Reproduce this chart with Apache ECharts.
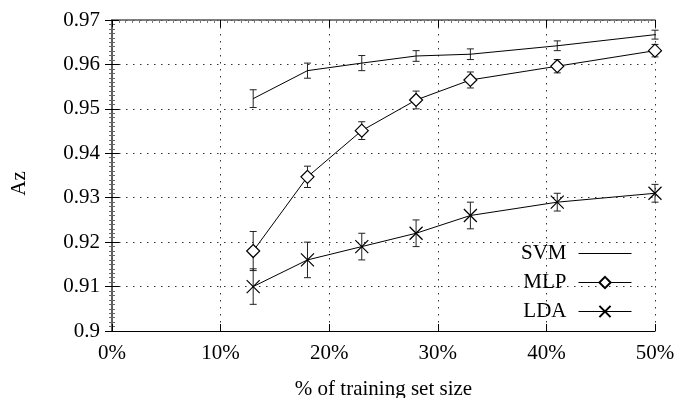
<!DOCTYPE html>
<html>
<head>
<meta charset="utf-8">
<script src="https://cdn.jsdelivr.net/npm/echarts@6/dist/echarts.min.js"></script>
<style>
  html, body { margin: 0; padding: 0; background: #fff; }
  #chart { width: 677px; height: 398px; }
</style>
</head>
<body>
<div id="chart"></div>
<script>
// training set size (%)
const sizes = [13, 18, 23, 28, 33, 41, 50];
const xTicks = [0, 10, 20, 30, 40, 50];
const yTicks = [0.9, 0.91, 0.92, 0.93, 0.94, 0.95, 0.96, 0.97];

const svm = [0.9523, 0.9586, 0.9603, 0.9619, 0.9623, 0.9642, 0.9667];
const svmErr = [0.002, 0.0017, 0.0017, 0.0012, 0.0012, 0.0011, 0.001];
const mlp = [0.918, 0.9347, 0.9451, 0.952, 0.9565, 0.9596, 0.9631];
const mlpErr = [0.0044, 0.0024, 0.002, 0.002, 0.0018, 0.0015, 0.0014];
const lda = [0.910, 0.916, 0.919, 0.922, 0.926, 0.929, 0.931];
const ldaErr = [0.004, 0.004, 0.003, 0.003, 0.003, 0.002, 0.002];

const font = "Liberation Serif";

function pairs(ys) {
  return sizes.map((x, i) => [x, ys[i]]);
}
function errRows(ys, es) {
  return sizes.map((x, i) => [x, ys[i] - es[i], ys[i] + es[i]]);
}

// vertical error bar with caps
function renderErr(params, api) {
  const lo = api.coord([api.value(0), api.value(1)]);
  const hi = api.coord([api.value(0), api.value(2)]);
  const w = 3.5;
  const style = { stroke: "#222", lineWidth: 1 };
  return {
    type: "group",
    children: [
      { type: "line", shape: { x1: lo[0], y1: lo[1], x2: hi[0], y2: hi[1] }, style: style },
      { type: "line", shape: { x1: lo[0] - w, y1: lo[1], x2: lo[0] + w, y2: lo[1] }, style: style },
      { type: "line", shape: { x1: hi[0] - w, y1: hi[1], x2: hi[0] + w, y2: hi[1] }, style: style }
    ]
  };
}

const chart = echarts.init(document.getElementById("chart"));

const gridLine = { show: true, lineStyle: { color: "#333", width: 1, type: [1.5, 5.5] } };
const borderLine = { show: true, lineStyle: { color: "#555", width: 1.5 } };

chart.setOption({
  animation: false,
  textStyle: { fontFamily: font },
  grid: { left: 112, right: 22, top: 20, bottom: 67, containLabel: false, outerBoundsMode: "none" },
  legend: {
    orient: "vertical",
    align: "right",
    right: 40,
    top: 238,
    itemWidth: 53,
    itemHeight: 14,
    itemGap: 8,
    lineStyle: { type: "solid", width: 1, color: "#000" },
    textStyle: { fontFamily: font, fontSize: 21, color: "#000", padding: [0, 7, 0, 0] },
    data: [
      { name: "SVM", itemStyle: { color: "rgba(0,0,0,0)", borderWidth: 0 } },
      "MLP",
      "LDA"
    ]
  },
  xAxis: [
    {
      type: "value",
      min: xTicks[0],
      max: xTicks[xTicks.length - 1],
      interval: 10,
      name: "% of training set size",
      nameLocation: "middle",
      nameGap: 48,
      nameTextStyle: { fontFamily: font, fontSize: 21, color: "#000" },
      axisLine: { show: true, lineStyle: { color: "#000", width: 1.2 } },
      axisTick: { show: true, inside: true, length: 7, lineStyle: { color: "#000" } },
      axisLabel: { fontFamily: font, fontSize: 21, color: "#000", margin: 12, formatter: "{value}%" },
      splitLine: gridLine
    },
    {
      type: "value",
      position: "top",
      min: xTicks[0],
      max: xTicks[xTicks.length - 1],
      interval: 10,
      axisLine: borderLine,
      axisTick: { show: true, inside: true, length: 7, lineStyle: { color: "#000" } },
      minorTick: { show: true, splitNumber: 16, length: 3, lineStyle: { color: "#777" } },
      axisLabel: { show: false },
      splitLine: { show: false }
    }
  ],
  yAxis: [
    {
      type: "value",
      min: yTicks[0],
      max: yTicks[yTicks.length - 1],
      interval: 0.01,
      name: "Az",
      nameLocation: "middle",
      nameGap: 82,
      nameTextStyle: { fontFamily: font, fontSize: 21, color: "#000", padding: [0, 16, 0, 0] },
      axisLine: borderLine,
      axisTick: { show: true, inside: true, length: 7, lineStyle: { color: "#000" } },
      minorTick: { show: true, splitNumber: 10, length: 3, lineStyle: { color: "#666" } },
      axisLabel: { fontFamily: font, fontSize: 21, color: "#000", margin: 12 },
      splitLine: gridLine
    },
    {
      type: "value",
      position: "right",
      min: yTicks[0],
      max: yTicks[yTicks.length - 1],
      interval: 0.01,
      axisLine: borderLine,
      axisTick: { show: true, inside: true, length: 7, lineStyle: { color: "#000" } },
      minorTick: { show: true, splitNumber: 10, length: 3, lineStyle: { color: "#666" } },
      axisLabel: { show: false },
      splitLine: { show: false }
    }
  ],
  series: [
    {
      name: "SVM",
      type: "line",
      data: pairs(svm),
      symbol: "none",
      lineStyle: { color: "#000", width: 1 },
      itemStyle: { color: "#000" },
      z: 3
    },
    {
      name: "MLP",
      type: "line",
      data: pairs(mlp),
      symbol: "diamond",
      symbolSize: [13, 13],
      lineStyle: { color: "#000", width: 1 },
      itemStyle: { color: "#fff", borderColor: "#000", borderWidth: 1.2 },
      z: 3
    },
    {
      name: "LDA",
      type: "line",
      data: pairs(lda),
      symbol: "path://M0,0L10,10M10,0L0,10",
      symbolSize: [13, 13],
      lineStyle: { color: "#000", width: 1 },
      itemStyle: { color: "#000", borderColor: "#000", borderWidth: 1.2 },
      z: 3
    },
    { type: "custom", renderItem: renderErr, data: errRows(svm, svmErr), z: 2, silent: true },
    { type: "custom", renderItem: renderErr, data: errRows(mlp, mlpErr), z: 2, silent: true },
    { type: "custom", renderItem: renderErr, data: errRows(lda, ldaErr), z: 2, silent: true }
  ]
});
</script>
</body>
</html>
